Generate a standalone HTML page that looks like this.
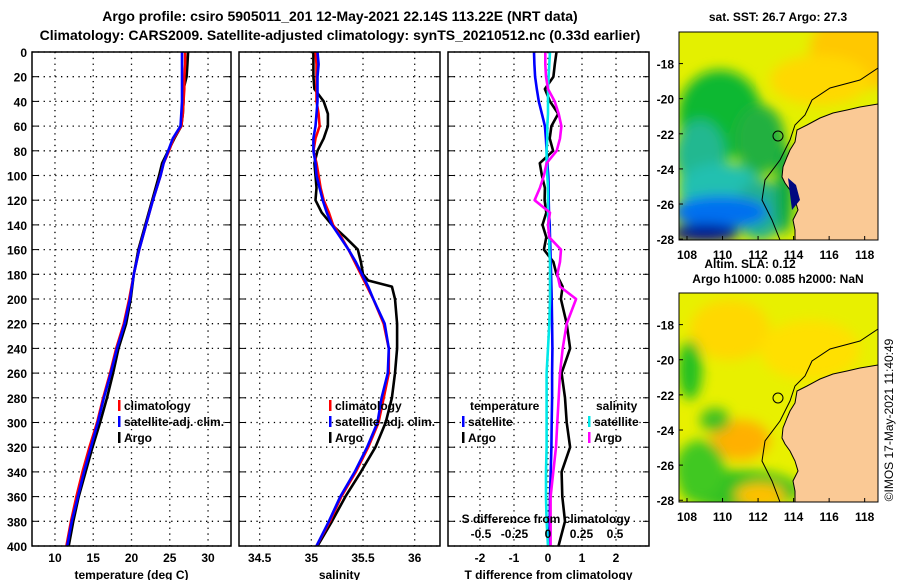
<!DOCTYPE html>
<html><head><meta charset="utf-8">
<style>
html,body{margin:0;padding:0;background:#fff;}
svg{display:block;font-family:"Liberation Sans",sans-serif;font-weight:bold;}
</style></head>
<body>
<svg id="chart" width="900" height="580" viewBox="0 0 900 580">
<defs>
<filter id="blur1" x="-20%" y="-20%" width="140%" height="140%"><feGaussianBlur stdDeviation="6"/></filter>
<clipPath id="mapclip1"><rect x="679" y="32" width="199" height="208"/></clipPath>
<clipPath id="mapclip2"><rect x="679" y="293" width="199" height="209"/></clipPath>
</defs>
<text x="340" y="21" font-size="14" text-anchor="middle">Argo profile: csiro 5905011_201 12-May-2021 22.14S 113.22E (NRT data)</text>
<text x="340" y="40" font-size="14" text-anchor="middle">Climatology: CARS2009. Satellite-adjusted climatology: synTS_20210512.nc (0.33d earlier)</text>
<g id="panels"></g>

<!-- SST map -->
<g>
<text x="778" y="21" font-size="12" text-anchor="middle">sat. SST: 26.7 Argo: 27.3</text>
<g clip-path="url(#mapclip1)">
<rect x="679" y="32" width="199" height="208" fill="#e4f000"/>
<g filter="url(#blur1)">
<ellipse cx="860" cy="50" rx="50" ry="40" fill="#ffc800"/>
<ellipse cx="820" cy="80" rx="50" ry="25" fill="#ffd800"/>
<ellipse cx="720" cy="115" rx="42" ry="45" fill="#10b830"/>
<ellipse cx="760" cy="140" rx="25" ry="35" fill="#20b040"/>
<ellipse cx="700" cy="155" rx="25" ry="35" fill="#20b890"/>
<ellipse cx="720" cy="188" rx="42" ry="25" fill="#20c0b0"/>
<ellipse cx="760" cy="210" rx="25" ry="30" fill="#20b090"/>
<ellipse cx="720" cy="212" rx="48" ry="16" fill="#0070f0"/>
<ellipse cx="705" cy="233" rx="35" ry="9" fill="#000a90"/>
<ellipse cx="785" cy="190" rx="9" ry="45" fill="#10a840"/>
</g>
<polygon points="878,104 860,107 847,110 833,113 820,118 807,125 797,130 795,142 790,150 787,157 783,167 782,177 785,183 790,190 795,200 798,210 793,220 795,230 795,240 878,240" fill="#fac995" stroke="#000" stroke-width="1"/>
<polyline points="878,68 860,80 830,88 812,100 805,115 795,125 790,140 780,160 765,180 762,200 772,220 780,240" fill="none" stroke="#000" stroke-width="1"/>
<path d="M788,178 L796,185 L800,200 L792,210 Z" fill="#000880"/>
<circle cx="778" cy="136" r="5" fill="none" stroke="#000" stroke-width="1"/>
</g>
<rect x="679" y="32" width="199" height="208" fill="none" stroke="#000"/>
</g>

<!-- SLA map -->
<g>
<text x="750" y="268" font-size="12" text-anchor="middle">Altim. SLA: 0.12</text>
<text x="778" y="283" font-size="12" text-anchor="middle">Argo h1000: 0.085 h2000: NaN</text>
<g clip-path="url(#mapclip2)">
<rect x="679" y="293" width="199" height="209" fill="#e8f000"/>
<g filter="url(#blur1)">
<ellipse cx="730" cy="330" rx="40" ry="30" fill="#ffd800"/>
<ellipse cx="740" cy="440" rx="30" ry="20" fill="#ffb000"/>
<ellipse cx="690" cy="370" rx="12" ry="30" fill="#20c020"/>
<ellipse cx="740" cy="490" rx="60" ry="20" fill="#30c020"/>
<ellipse cx="700" cy="470" rx="25" ry="30" fill="#40c820"/>
<ellipse cx="715" cy="420" rx="15" ry="12" fill="#40c020"/>
<ellipse cx="760" cy="495" rx="25" ry="12" fill="#ffc000"/>
<ellipse cx="810" cy="350" rx="50" ry="30" fill="#ffe000"/>
</g>
<polygon points="878,365 860,368 847,371 833,374 820,379 807,386 797,391 795,403 790,411 787,418 783,428 782,438 785,444 790,451 795,461 798,471 793,481 795,491 795,502 878,502" fill="#fac995" stroke="#000" stroke-width="1"/>
<polyline points="878,329 860,341 830,349 812,361 805,376 795,386 790,401 780,421 765,441 762,461 772,481 780,502" fill="none" stroke="#000" stroke-width="1"/>
<circle cx="778" cy="398" r="5" fill="none" stroke="#000" stroke-width="1"/>
</g>
<rect x="679" y="293" width="199" height="209" fill="none" stroke="#000"/>
</g>
<g id="mapaxes"></g>
<text x="0" y="0" font-size="12" font-weight="normal" transform="translate(893,420) rotate(-90)" text-anchor="middle">©IMOS 17-May-2021 11:40:49</text>
</svg>
<script>
// ---- data ----
const depthT = [0,10,20,30,40,50,60,70,80,90,100,120,140,160,180,200,220,240,260,280,300,320,340,360,380,400];
const climT = [27.0,27.0,26.9,26.9,26.8,26.7,26.5,25.5,24.9,24.2,23.8,22.8,21.9,21.0,20.3,19.7,19.0,18.0,17.2,16.3,15.5,14.5,13.6,12.8,12.1,11.5];
const satT = [26.6,26.6,26.6,26.6,26.6,26.5,26.4,25.4,24.8,24.2,23.8,22.8,21.9,21.0,20.3,19.8,19.1,18.1,17.3,16.4,15.6,14.7,13.8,13.0,12.2,11.6];
const argoT = [27.4,27.3,27.2,26.8,26.8,26.7,26.5,25.6,24.8,24.0,23.6,22.7,21.8,20.9,20.3,19.9,19.3,18.3,17.6,16.8,15.9,14.9,14.0,13.1,12.4,11.8];
const depthS = [0,10,20,30,40,50,60,70,80,90,100,110,120,130,140,150,160,170,180,185,190,200,220,240,260,280,300,320,340,360,380,400];
const argoS = [35.02,35.02,35.02,35.03,35.12,35.16,35.16,35.12,35.06,35.03,35.04,35.05,35.04,35.10,35.20,35.33,35.45,35.48,35.50,35.55,35.78,35.81,35.83,35.83,35.81,35.78,35.72,35.62,35.48,35.33,35.20,35.06];
const satS = [35.06,35.07,35.06,35.06,35.06,35.05,35.04,35.02,35.02,35.04,35.05,35.08,35.11,35.15,35.20,35.28,35.36,35.43,35.49,35.52,35.55,35.60,35.71,35.75,35.74,35.68,35.64,35.54,35.42,35.28,35.17,35.05];
const climS = [35.04,35.05,35.05,35.05,35.05,35.07,35.08,35.04,35.02,35.05,35.07,35.09,35.12,35.17,35.21,35.29,35.36,35.42,35.48,35.51,35.54,35.60,35.70,35.75,35.75,35.70,35.65,35.55,35.43,35.29,35.18,35.05];
const depthD = [0,10,20,30,40,50,60,70,80,90,100,110,120,130,140,150,160,170,180,190,200,220,240,260,280,300,320,340,360,380,400];
const satTd = [-0.41,-0.40,-0.38,-0.33,-0.27,-0.18,-0.09,-0.06,-0.04,-0.02,0.01,0.02,0.02,0.03,0.05,0.06,0.07,0.08,0.09,0.10,0.11,0.12,0.13,0.12,0.12,0.11,0.10,0.08,0.06,0.05,0.04];
const argoTd = [0.25,0.2,0.16,-0.09,0.06,0.3,0.1,0.05,0.15,-0.24,-0.18,-0.09,-0.1,-0.05,-0.16,-0.05,-0.12,0.16,0.25,0.43,0.38,0.55,0.65,0.4,0.5,0.55,0.65,0.4,0.42,0.5,0.31];
const satSd = [0.015,0.01,0.005,0,0,0,-0.005,-0.005,-0.01,-0.01,-0.005,0,0,0,0.005,0.01,0.01,0.015,0.015,0.015,0.015,0.01,0,-0.01,-0.01,-0.01,-0.01,-0.015,-0.015,-0.01,0];
const argoSd = [-0.02,-0.02,-0.015,0.0,0.05,0.08,0.1,0.09,0.065,-0.01,-0.03,-0.06,-0.1,0.015,0.0,0.01,0.097,0.09,0.07,0.09,0.21,0.14,0.11,0.09,0.08,0.07,0.06,0.04,0.02,0.02,0.02];
const depthTicks = [0,20,40,60,80,100,120,140,160,180,200,220,240,260,280,300,320,340,360,380,400];
const tTicks = [10,15,20,25,30];
const sTicks = [34.5,35,35.5,36];
const tdTicks = [-2,-1,0,1,2];
const sdTicks = [-0.5,-0.25,0,0.25,0.5];
const sdTickLabels = ['-0.5','-0.25','0','0.25','0.5'];
const latTicks = [-18,-20,-22,-24,-26,-28];
const lonTicks = [108,110,112,114,116,118];

const NS = 'http://www.w3.org/2000/svg';
const root = document.getElementById('panels');
function mk(tag, attrs, parent){const e=document.createElementNS(NS,tag);for(const k in attrs)e.setAttribute(k,attrs[k]);(parent||root).appendChild(e);return e;}
const Y0=52, Y1=546;
const yScale = d => Y0 + (d/400)*(Y1-Y0);
function lin(d0,d1,r0,r1){return v=>r0+(v-d0)/(d1-d0)*(r1-r0);}

function panel(name, x0, x1, xs, ticks, tickLabels, xlabel, showY){
  const g = mk('g',{});
  
  
  ticks.forEach((t,i)=>{
    const x=xs(t);
    const l=mk('line',{x1:x,x2:x,y1:Y0,y2:Y1,stroke:'#000','stroke-width':1.3,'stroke-dasharray':'1.3 4.5'},g);
    
    
    const tx=mk('text',{x:x,y:562,'font-size':12,'text-anchor':'middle'},g);
    tx.textContent=tickLabels[i];
    
    
  });
  depthTicks.forEach(d=>{
    const y=yScale(d);
    const l=mk('line',{x1:x0,x2:x1,y1:y,y2:y,stroke:'#000','stroke-width':1.3,'stroke-dasharray':'1.3 4.5'},g);
    
    
    mk('line',{x1:x0,x2:x0+6,y1:y,y2:y,stroke:'#000'},g);
    mk('line',{x1:x1-6,x2:x1,y1:y,y2:y,stroke:'#000'},g);
    if(showY){
      const tx=mk('text',{x:x0-5,y:y+5,'font-size':12,'text-anchor':'end'},g);
      tx.textContent=d;
      
      
    }
  });
  const xl=mk('text',{x:(x0+x1)/2,y:579,'font-size':12,'text-anchor':'middle'},g);
  xl.textContent=xlabel;
  
  
  return g;
}
function line(g,name,xs,vals,depths,color){
  const pts=vals.map((v,i)=>xs(v).toFixed(1)+','+yScale(depths[i]).toFixed(1)).join(' ');
  const p=mk('polyline',{points:pts,fill:'none',stroke:color,'stroke-width':2.6,'stroke-linejoin':'round'},g);
  
  
}
function frame(g,x0,x1){mk('rect',{x:x0,y:Y0,width:x1-x0,height:Y1-Y0,fill:'none',stroke:'#000','stroke-width':1.5},g);}
function legend(g,x,y,items){
  items.forEach((it,i)=>{
    const yy=y+i*16;
    const m=mk('rect',{x:x,y:yy-10,width:2.5,height:11,fill:it[1]},g);
    
    
    const t=mk('text',{x:x+6,y:yy,'font-size':12},g);
    t.textContent=it[0];
    
    
  });
}

// Panel 1: temperature
const xT = lin(7,33,32,231);
const g1 = panel('temperature-panel',32,231,xT,tTicks,tTicks.map(String),'temperature (deg C)',true);
line(g1,'argo-temperature',xT,argoT,depthT,'#000');
line(g1,'clim-temperature',xT,climT,depthT,'#f00');
line(g1,'sat-temperature',xT,satT,depthT,'#00f');
frame(g1,32,231);
legend(g1,118,410,[['climatology','#f00'],['satellite-adj. clim.','#00f'],['Argo','#000']]);

// Panel 2: salinity
const xS = lin(34.3,36.245,239,440);
const g2 = panel('salinity-panel',239,440,xS,sTicks,['34.5','35','35.5','36'],'salinity',false);
line(g2,'argo-salinity',xS,argoS,depthS,'#000');
line(g2,'clim-salinity',xS,climS,depthS,'#f00');
line(g2,'sat-salinity',xS,satS,depthS,'#00f');
frame(g2,239,440);
legend(g2,329,410,[['climatology','#f00'],['satellite-adj. clim.','#00f'],['Argo','#000']]);

// Panel 3: differences
const xTd = lin(-2.94,2.97,448,649);
const xSd = lin(-0.746,0.754,448,649);
const g3 = panel('difference-panel',448,649,xTd,tdTicks,tdTicks.map(String),'T difference from climatology',false);
line(g3,'argo-t-diff',xTd,argoTd,depthD,'#000');
line(g3,'sat-t-diff',xTd,satTd,depthD,'#00f');
line(g3,'sat-s-diff',xSd,satSd,depthD,'#00e8e8');
line(g3,'argo-s-diff',xSd,argoSd,depthD,'#f0f');
frame(g3,448,649);
const lt=mk('text',{x:470,y:410,'font-size':12},g3);lt.textContent='temperature';


const ls=mk('text',{x:596,y:410,'font-size':12},g3);ls.textContent='salinity';


legend(g3,462,426,[['satellite','#00f'],['Argo','#000']]);
legend(g3,588,426,[['satellite','#00e8e8'],['Argo','#f0f']]);
const st=mk('text',{x:546,y:523,'font-size':12,'text-anchor':'middle'},g3);st.textContent='S difference from climatology';


sdTicks.forEach((v,i)=>{
  const t=mk('text',{x:xSd(v),y:538,'font-size':12,'text-anchor':'middle'},g3);
  t.textContent=sdTickLabels[i];
  
  
});

// Map axes
const ma=document.getElementById('mapaxes');
const lonX = lin(107.55,118.75,679,878);
[[32,240,-16.2,-28.05],[293,502,-16.2,-28.1]].forEach((m,k)=>{
  const latY = lin(m[2],m[3],m[0],m[1]);
  latTicks.forEach(v=>{
    const y=latY(v);
    mk('line',{x1:679,x2:683,y1:y,y2:y,stroke:'#000'},ma);
    const t=mk('text',{x:674,y:y+5,'font-size':12,'text-anchor':'end'},ma);t.textContent=v;
    
    
  });
  lonTicks.forEach(v=>{
    const x=lonX(v);
    mk('line',{x1:x,x2:x,y1:m[1],y2:m[1]-4,stroke:'#000'},ma);
    const t=mk('text',{x:x,y:m[1]+19,'font-size':12,'text-anchor':'middle'},ma);t.textContent=v;
    
    
  });
});
</script>
</body></html>
